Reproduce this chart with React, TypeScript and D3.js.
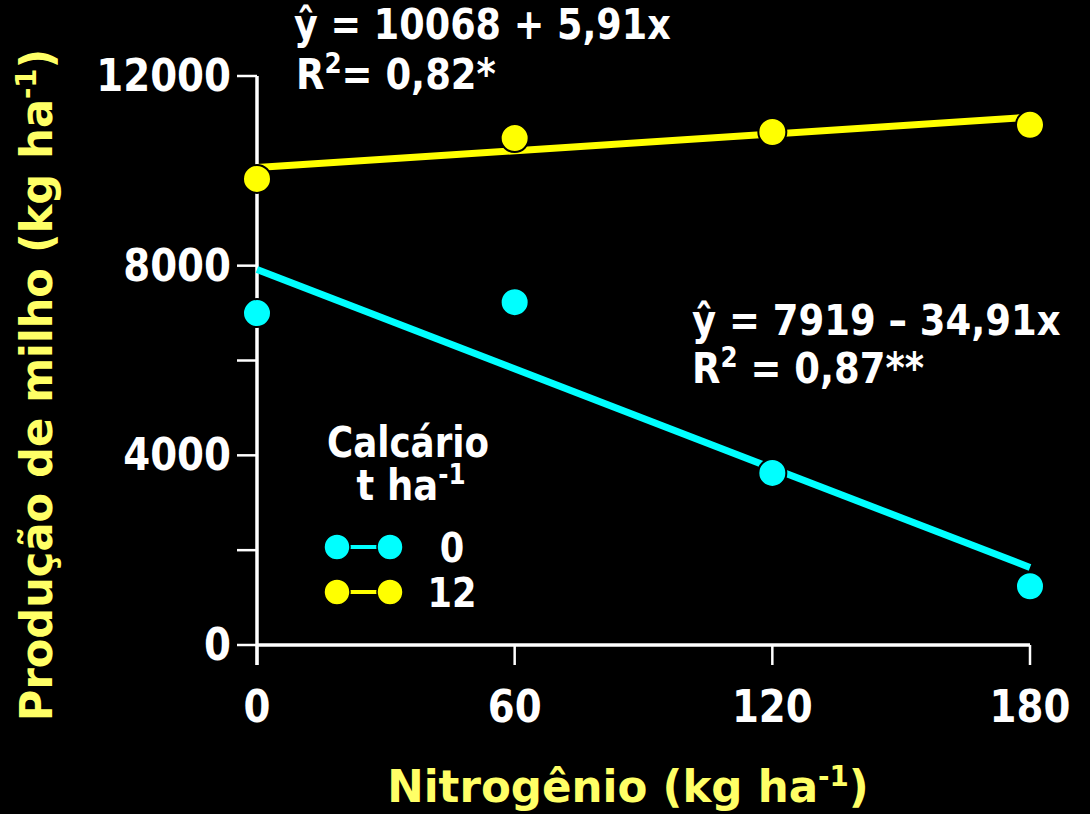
import React from "react";
import * as d3 from "d3";

// Nitrogen rates (kg/ha) and maize yield (kg/ha) for each lime rate
const nitrogen = [0, 60, 120, 180];
const yieldLime0 = [7000, 7230, 3630, 1240];
const yieldLime12 = [9830, 10690, 10820, 10970];

// Fitted linear regressions: y = a + b * x
const fitLime0 = { a: 7919, b: -34.91 };
const fitLime12 = { a: 10068, b: 5.91 };

const yTicks = [0, 2000, 4000, 6000, 8000, 12000];
const yTickLabels = [0, 4000, 8000, 12000];
const xTicks = [0, 60, 120, 180];
const limeLabels = ["0", "12"];

const W = 1090;
const H = 814;
const FONT = "'DejaVu Sans', Verdana, sans-serif";
const SX = 0.88; // horizontal squeeze for a Tahoma-like width
const CYAN = "#00ffff";
const YELLOW = "#ffff00";
const TITLE = "#ffff66";

type TProps = {
  x: number;
  y: number;
  size: number;
  fill?: string;
  anchor?: "start" | "middle" | "end";
  rotate?: number;
  sx?: number;
  children: React.ReactNode;
};

function T({ x, y, size, fill = "#fff", anchor = "start", rotate = 0, sx = SX, children }: TProps) {
  return (
    <text
      transform={`translate(${x},${y}) rotate(${rotate}) scale(${sx},1)`}
      fontFamily={FONT}
      fontWeight="bold"
      fontSize={size}
      fill={fill}
      textAnchor={anchor}
    >
      {children}
    </text>
  );
}

const Sup = ({ children, size }: { children: React.ReactNode; size: number }) => (
  <tspan fontSize={size} baselineShift="super">{children}</tspan>
);

export default function App() {
  const x = d3.scaleLinear().domain([0, 180]).range([257, 1030]);
  const y = d3.scaleLinear().domain([0, 12000]).range([645, 76]);

  const fitLine = (f: { a: number; b: number }) =>
    d3.line<number>()
      .x((d) => x(d))
      .y((d) => y(f.a + f.b * d))([0, 180]) as string;

  const series = [
    { values: yieldLime0, fit: fitLime0, color: CYAN },
    { values: yieldLime12, fit: fitLime12, color: YELLOW },
  ];

  const legendY = [547, 592];
  const legendX = [337, 390];

  return (
    <svg
      width={W}
      height={H}
      style={{ display: "block", position: "absolute", left: 0, top: 0, background: "#000" }}
    >
      <rect width={W} height={H} fill="#000" />

      {/* axes */}
      <line x1={x(0)} x2={x(0)} y1={y(12000)} y2={665} stroke="#fff" strokeWidth={3.5} />
      <line x1={x(0)} x2={x(180)} y1={y(0)} y2={y(0)} stroke="#fff" strokeWidth={3.5} />
      {yTicks.map((t) => (
        <line key={`yt${t}`} x1={237} x2={x(0)} y1={y(t)} y2={y(t)} stroke="#fff" strokeWidth={2.5} />
      ))}
      {xTicks.map((t) => (
        <line key={`xt${t}`} x1={x(t)} x2={x(t)} y1={y(0)} y2={665} stroke="#fff" strokeWidth={2.5} />
      ))}
      {yTickLabels.map((t) => (
        <T key={`yl${t}`} x={231} y={y(t) + 15} size={44} anchor="end">{t}</T>
      ))}
      {xTicks.map((t) => (
        <T key={`xl${t}`} x={x(t)} y={722} size={44} anchor="middle">{t}</T>
      ))}

      {/* axis titles */}
      <T x={628} y={802} size={44} fill={TITLE} anchor="middle" sx={0.99}>
        Nitrogênio (kg ha<Sup size={28}>-1</Sup>)
      </T>
      <T x={52} y={385} size={44} fill={TITLE} anchor="middle" rotate={-90} sx={0.98}>
        Produção de milho (kg ha<Sup size={28}>-1</Sup>)
      </T>

      {/* regression lines and observed points */}
      {series.map((s, i) => (
        <g key={`s${i}`}>
          <path d={fitLine(s.fit)} stroke={s.color} strokeWidth={7} fill="none" />
          {s.values.map((v, j) => (
            <circle key={j} cx={x(nitrogen[j])} cy={y(v)} r={14} fill={s.color} stroke="#000" strokeWidth={2} />
          ))}
        </g>
      ))}

      {/* equations */}
      <T x={294} y={39} size={42} sx={0.87}>ŷ = 10068 + 5,91x</T>
      <T x={296} y={89} size={42}>
        R<Sup size={28}>2</Sup>= 0,82*
      </T>
      <T x={692} y={335} size={42}>ŷ = 7919 – 34,91x</T>
      <T x={692} y={383} size={42}>
        R<Sup size={28}>2</Sup> = 0,87**
      </T>

      {/* legend */}
      <T x={408} y={457} size={42} anchor="middle" sx={0.85}>Calcário</T>
      <T x={411} y={500} size={42} anchor="middle">
        t ha<Sup size={28}>-1</Sup>
      </T>
      {series.map((s, i) => (
        <g key={`lg${i}`}>
          <line x1={legendX[0]} x2={legendX[1]} y1={legendY[i]} y2={legendY[i]} stroke={s.color} strokeWidth={4} />
          {legendX.map((lx) => (
            <circle key={lx} cx={lx} cy={legendY[i]} r={13} fill={s.color} stroke="#000" strokeWidth={1.5} />
          ))}
          <T x={452} y={legendY[i] + 15} size={40} anchor="middle">{limeLabels[i]}</T>
        </g>
      ))}
    </svg>
  );
}
